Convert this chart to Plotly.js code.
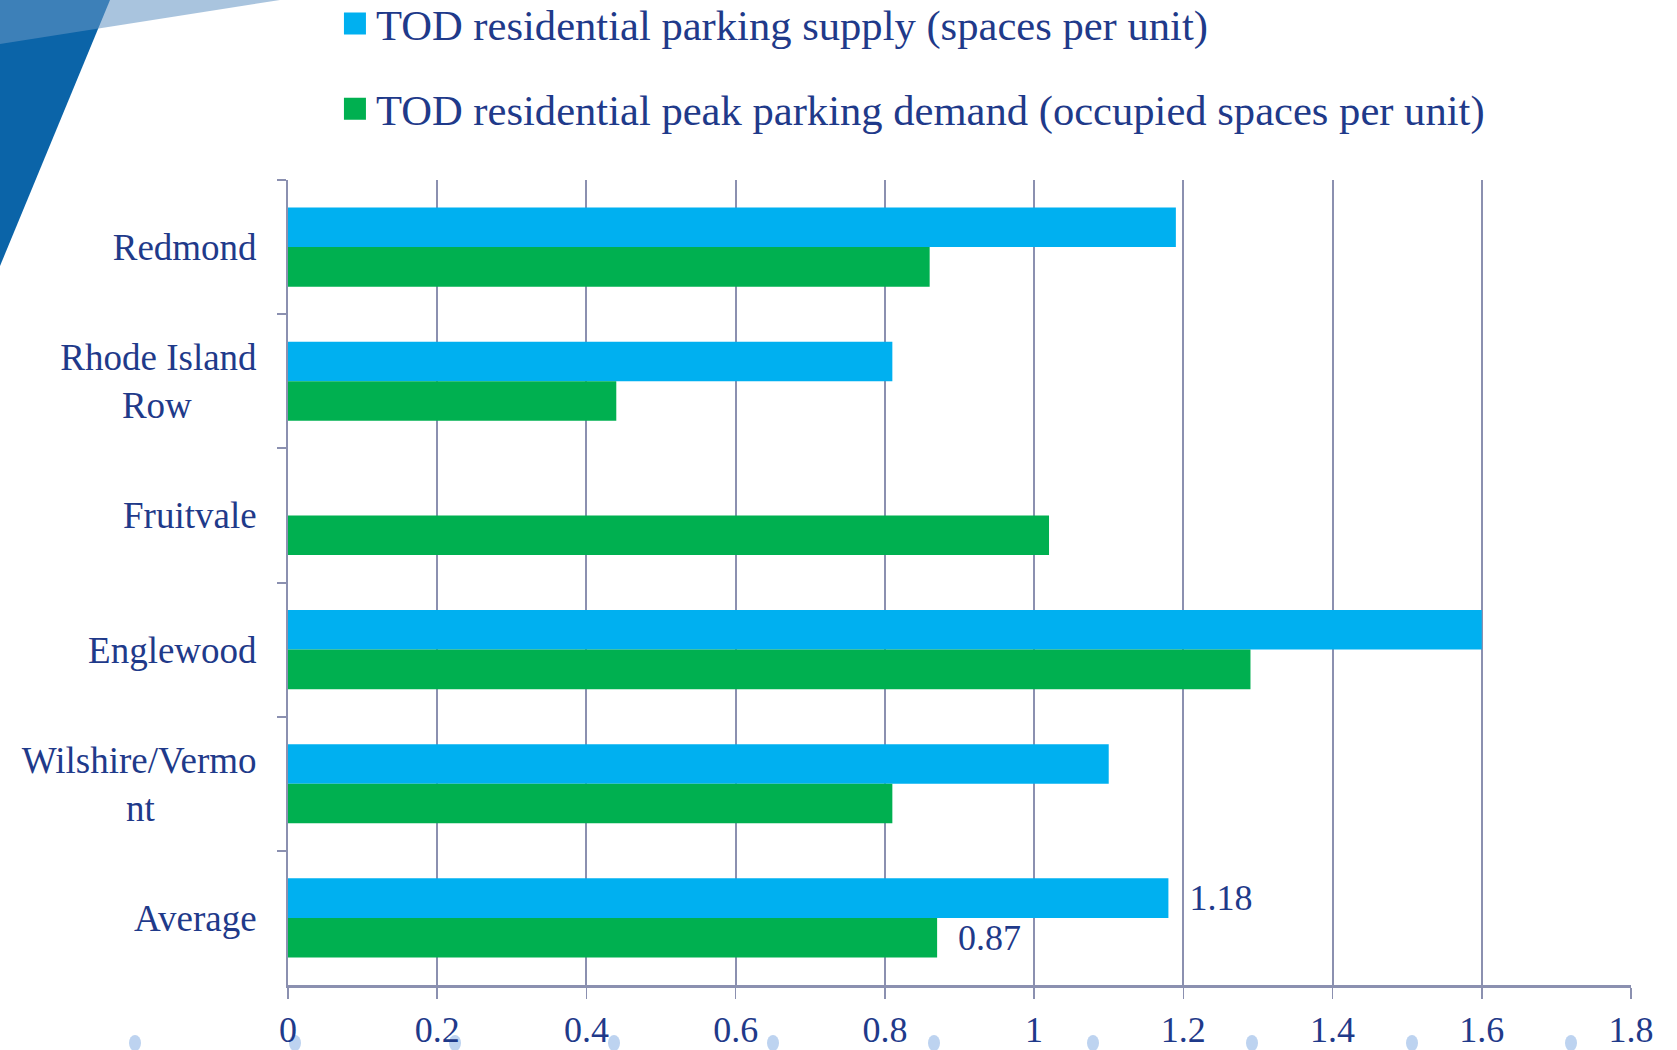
<!DOCTYPE html>
<html>
<head>
<meta charset="utf-8">
<script src="https://cdn.plot.ly/plotly-3.0.1.min.js"></script>
<style>
  html, body { margin: 0; padding: 0; background: #ffffff; }
  #wrap { position: relative; width: 1677px; height: 1050px; overflow: hidden; }
  #deco { position: absolute; left: 0; top: 0; width: 1677px; height: 1050px; }
  #chart { position: absolute; left: 0; top: 0; width: 1677px; height: 1050px; }
</style>
</head>
<body>
<div id="wrap">
  <svg id="deco" width="1677" height="1050" xmlns="http://www.w3.org/2000/svg">
    <polygon points="0,0 110,0 0,266" fill="#0B64A8"/>
    <polygon points="0,0 280,0 0,44" fill="rgba(102,150,196,0.56)"/>
    <g fill="#BDD3F0">
      <ellipse cx="135" cy="1043" rx="6" ry="8"/>
      <ellipse cx="295" cy="1043" rx="6" ry="8"/>
      <ellipse cx="455" cy="1043" rx="6" ry="8"/>
      <ellipse cx="614" cy="1043" rx="6" ry="8"/>
      <ellipse cx="773" cy="1043" rx="6" ry="8"/>
      <ellipse cx="934" cy="1043" rx="6" ry="8"/>
      <ellipse cx="1093" cy="1043" rx="6" ry="8"/>
      <ellipse cx="1252" cy="1043" rx="6" ry="8"/>
      <ellipse cx="1412" cy="1043" rx="6" ry="8"/>
      <ellipse cx="1571" cy="1043" rx="6" ry="8"/>
    </g>
  </svg>
  <div id="chart"></div>
</div>
<script>
// ---- data ----
const categories = [
  "Redmond",
  "Rhode Island<br>Row\u00a0\u00a0\u00a0\u00a0\u00a0\u00a0\u00a0",
  "Fruitvale",
  "Englewood",
  "Wilshire/Vermo<br>nt\u00a0\u00a0\u00a0\u00a0\u00a0\u00a0\u00a0\u00a0\u00a0\u00a0\u00a0",
  "Average"
];
const supplyName = "TOD residential parking supply (spaces per unit)";
const demandName = "TOD residential peak parking demand (occupied spaces per unit)";
const supplyValues = [1.19, 0.81, null, 1.60, 1.10, 1.18];
const demandValues = [0.86, 0.44, 1.02, 1.29, 0.81, 0.87];
const supplyLabels = ["", "", "", "", "", "1.18"];
const demandLabels = ["", "", "", "", "", "0.87"];
const xTickVals = [0, 0.2, 0.4, 0.6, 0.8, 1.0, 1.2, 1.4, 1.6, 1.8];
const xTickText = ["0", "0.2", "0.4", "0.6", "0.8", "1", "1.2", "1.4", "1.6", "1.8"];

// ---- styles ----
const NAVY = "#1F3A8A";
const GRID = "#8B90B0";
const FONT = "Liberation Serif, Times New Roman, serif";

const traces = [
  {
    type: "bar", orientation: "h", name: supplyName, legendgroup: "a",
    y: categories, x: supplyValues, text: supplyLabels,
    texttemplate: "\u00a0\u00a0%{text}", textposition: "outside", constraintext: "none",
    cliponaxis: false,
    textfont: { family: FONT, size: 36, color: NAVY },
    marker: { color: "#00B0F0" }, hoverinfo: "x+name"
  },
  {
    type: "bar", orientation: "h", name: demandName, legendgroup: "b",
    y: categories, x: demandValues, text: demandLabels,
    texttemplate: "\u00a0\u00a0%{text}", textposition: "outside", constraintext: "none",
    cliponaxis: false,
    textfont: { family: FONT, size: 36, color: NAVY },
    marker: { color: "#00B050" }, hoverinfo: "x+name"
  }
];

const layout = {
  width: 1677, height: 1050,
  margin: { l: 288, r: 46, t: 180, b: 65, autoexpand: false },
  paper_bgcolor: "rgba(0,0,0,0)",
  plot_bgcolor: "rgba(0,0,0,0)",
  font: { family: FONT, color: NAVY, size: 36 },
  barmode: "group", bargap: 0.41, bargroupgap: 0,
  showlegend: true,
  legend: {
    x: 0.0357, xanchor: "left",
    y: 1.237, yanchor: "top",
    font: { family: FONT, size: 42.6, color: NAVY },
    traceorder: "grouped", tracegroupgap: 27,
    bgcolor: "rgba(0,0,0,0)"
  },
  xaxis: {
    range: [0, 1.8], tickmode: "array", tickvals: xTickVals, ticktext: xTickText,
    showgrid: true, gridcolor: GRID, gridwidth: 2,
    zeroline: false,
    showline: true, linecolor: GRID, linewidth: 3,
    ticks: "outside", ticklen: 11, tickwidth: 1.5, tickcolor: GRID,
    tickfont: { family: FONT, size: 36, color: NAVY },
    ticklabelstandoff: 0,
    fixedrange: true
  },
  yaxis: {
    type: "category", autorange: "reversed",
    showgrid: false, zeroline: false,
    showline: true, linecolor: GRID, linewidth: 2,
    ticks: "outside", ticklen: 9, tickwidth: 2, tickcolor: GRID,
    tickson: "boundaries",
    tickfont: { family: FONT, size: 37, color: NAVY },
    ticklabelstandoff: 22,
    fixedrange: true
  }
};

Plotly.newPlot("chart", traces, layout, { displayModeBar: false, staticPlot: true }).then(function (gd) {
  document.querySelectorAll("#chart .legend .legendpoints path").forEach(function (p) {
    p.removeAttribute("transform");
    p.setAttribute("d", "M30,11H8V-11H30Z");
    p.style.strokeWidth = "0";
  });
});
</script>
</body>
</html>
